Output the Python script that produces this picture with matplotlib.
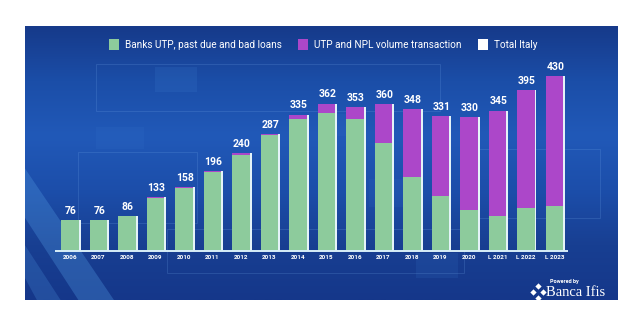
import numpy as np
import matplotlib
matplotlib.use("Agg")
import matplotlib.pyplot as plt
import matplotlib.patches as mpatches
from matplotlib.colors import LinearSegmentedColormap

plt.rcParams["font.family"] = ["Roboto", "DejaVu Sans"]

# ── Data ──────────────────────────────────────────────────────────────────────
years = ["2006", "2007", "2008", "2009", "2010", "2011", "2012", "2013", "2014",
         "2015", "2016", "2017", "2018", "2019", "2020", "L 2021", "L 2022", "L 2023"]
totals = [76, 76, 86, 133, 158, 196, 240, 287, 335, 362, 353, 360, 348, 331, 330, 345, 395, 430]
banks = [76, 76, 86, 131, 156, 194, 237, 284, 324, 340, 324, 265, 181, 135, 101, 87, 106, 111]
transactions = [t - b for t, b in zip(totals, banks)]

GREEN = "#8dcb9c"
PURPLE = "#ac47c9"
EDGE = "#e4f3f8"

# ── Figure ────────────────────────────────────────────────────────────────────
fig = plt.figure(figsize=(6.43, 3.23), dpi=100)
fig.patch.set_facecolor("white")
ax = fig.add_axes([25 / 643, 23 / 323, 593 / 643, 274 / 323])

x = np.arange(len(years))
ax.set_xlim(-1.579, 19.23)
ax.set_ylim(-120.4, 552.8)

# blue background gradient
cmap = LinearSegmentedColormap.from_list(
    "bg", ["#163a8a", "#1b4ea8", "#2159b8", "#1c4eaa", "#183f92", "#15378a"])
grad = np.linspace(0, 1, 256).reshape(-1, 1)
ax.imshow(grad, extent=[0, 1, 0, 1], transform=ax.transAxes, aspect="auto",
          cmap=cmap, origin="upper", zorder=0)

# decorative lighter diagonal bands (bottom left) and faint squares
ax.add_patch(mpatches.Polygon([[0, 0.48], [0.15, 0], [0.09, 0], [0, 0.30]],
                              transform=ax.transAxes, facecolor="#4d93dc",
                              alpha=0.35, lw=0, zorder=0.5))
ax.add_patch(mpatches.Polygon([[0, 0.20], [0.06, 0], [0.02, 0], [0, 0.08]],
                              transform=ax.transAxes, facecolor="#4d93dc",
                              alpha=0.25, lw=0, zorder=0.5))
for (rx, ry, rw, rh, a) in [(0.22, 0.76, 0.07, 0.09, 0.18), (0.58, 0.34, 0.08, 0.1, 0.10),
                            (0.12, 0.55, 0.08, 0.08, 0.12), (0.50, 0.60, 0.06, 0.08, 0.10),
                            (0.66, 0.08, 0.07, 0.09, 0.14)]:
    ax.add_patch(mpatches.Rectangle((rx, ry), rw, rh, transform=ax.transAxes,
                                    facecolor="#3f7fd0", alpha=a, lw=0, zorder=0.5))
for (rx, ry, rw, rh) in [(0.12, 0.69, 0.58, 0.17), (0.09, 0.28, 0.2, 0.26),
                         (0.74, 0.30, 0.23, 0.25), (0.24, 0.10, 0.5, 0.16)]:
    ax.add_patch(mpatches.Rectangle((rx, ry), rw, rh, transform=ax.transAxes,
                                    facecolor="none", edgecolor="#6fa3e6", alpha=0.22,
                                    lw=0.7, zorder=0.6))

# bars: light edge behind, then green + purple stacks
bw = 0.6
ax.bar(x + 0.07, totals, width=bw, color=EDGE, align="center", zorder=2, lw=0)
ax.bar(x, banks, width=bw, color=GREEN, zorder=3, lw=0)
ax.bar(x, transactions, bottom=banks, width=bw, color=PURPLE, zorder=3, lw=0)

for xi, t in zip(x, totals):
    ax.annotate(str(t), (xi + 0.03, t), xytext=(0, 3), textcoords="offset points",
                ha="center", va="bottom", color="white", fontsize=7.5,
                fontweight="bold", zorder=5)

# baseline
ax.plot([-0.53, 17.47], [0, 0], color="#d8eef8", lw=1.4, zorder=4,
        solid_capstyle="butt")

for xi, lab in zip(x, years):
    ax.text(xi, -10, lab, ha="center", va="top", color="white", fontsize=4.6,
            fontweight="bold", zorder=5)

# legend
legend_items = [("Banks UTP, past due and bad loans", GREEN),
                ("UTP and NPL volume transaction", PURPLE),
                ("Total Italy", "white")]
handles = [mpatches.Patch(facecolor=c, edgecolor="none", label=l) for l, c in legend_items]
leg = ax.legend(handles=handles, loc="upper center", bbox_to_anchor=(0.503, 0.985),
                ncol=3, frameon=False, fontsize=7.2, handlelength=1.0,
                handleheight=1.3, handletextpad=0.6, columnspacing=1.6)
for t in leg.get_texts():
    t.set_color("white")

# branding
ax.text(0.909, 0.066, "Powered by", transform=ax.transAxes, ha="center", va="center",
        color="white", fontsize=4, fontweight="bold", zorder=5)
ax.text(0.928, 0.026, "Banca Ifis", transform=ax.transAxes, ha="center", va="center",
        color="white", fontsize=10.5, family="Liberation Serif", zorder=5)
for dx, dy in [(0, 0.022), (-0.008, 0), (0.008, 0), (0, -0.022)]:
    ax.plot(0.865 + dx, 0.03 + dy, marker="D", ms=3.2, color="white",
            transform=ax.transAxes, zorder=5, mec="none")

ax.set_xticks([])
ax.set_yticks([])
for s in ax.spines.values():
    s.set_visible(False)

fig.savefig("out.png", dpi=100, facecolor="white")
